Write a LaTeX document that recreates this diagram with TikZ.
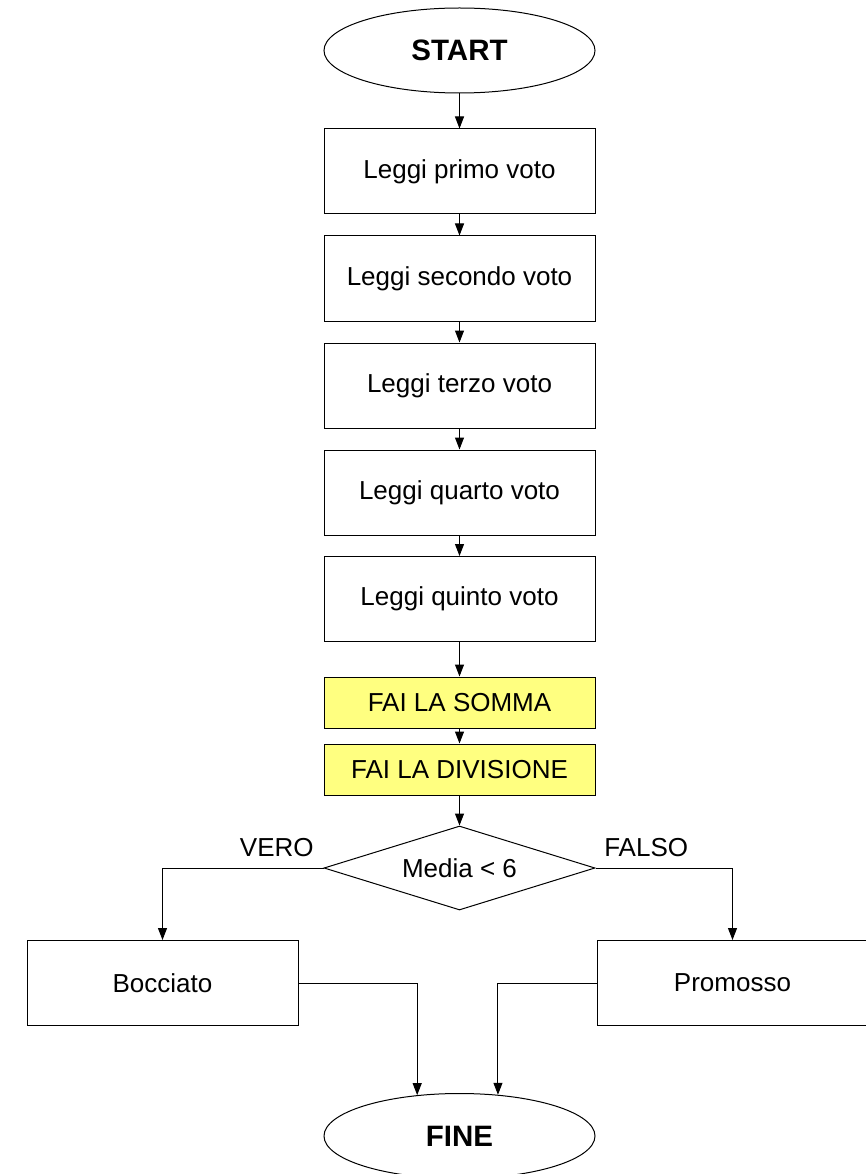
\documentclass[tikz,border=0pt]{standalone}
\usepackage{fontspec}
\setmainfont{Liberation Sans}
\usepackage{tikz}
\usetikzlibrary{shapes.geometric}
\usetikzlibrary{arrows.meta}
\usepackage{xcolor}
\definecolor{giallo}{RGB}{255,255,128}

\begin{document}
\begin{tikzpicture}[x=1pt,y=-1pt,line width=1pt,
  txt/.style={font=\fontsize{26}{31}\selectfont},
  term/.style={txt,draw,ellipse,minimum width=271pt,minimum height=85pt,inner sep=0pt,font=\fontsize{29.5}{34}\selectfont\bfseries},
  blocco/.style={txt,draw,rectangle,minimum width=271pt,minimum height=85pt,inner sep=0pt},
  calcolo/.style={blocco,fill=giallo,minimum height=51pt},
  cond/.style={txt,draw,diamond,aspect=3.2,minimum width=271pt,minimum height=84pt,inner sep=0pt},
  freccia/.style={-{Triangle[length=12pt,width=9pt]}},
  etich/.style={txt,inner sep=0pt}]
  \useasboundingbox (0,0) rectangle (865,1174);

  \node[term]   (start) at (459.5,50.5)  {START};
  \node[blocco] (v1)    at (459.5,171.5) {Leggi primo voto};
  \node[blocco] (v2)    at (459.5,278.5) {Leggi secondo voto};
  \node[blocco] (v3)    at (459.5,385.5) {Leggi terzo voto};
  \node[blocco] (v4)    at (459.5,492.5) {Leggi quarto voto};
  \node[blocco] (v5)    at (459.5,599)   {Leggi quinto voto};
  \node[calcolo] (somma) at (459.5,702.5) {FAI LA SOMMA};
  \node[calcolo] (divis) at (459.5,769.5) {FAI LA DIVISIONE};
  \node[cond]   (media) at (459.5,868)   {Media < 6};
  \node[blocco] (bocc)  at (162.5,983)   {Bocciato};
  \node[blocco] (prom)  at (732.5,983)   {Promosso};
  \node[term]   (fine)  at (459.5,1136)  {FINE};

  \draw[freccia] (start) -- (v1);
  \draw[freccia] (v1) -- (v2);
  \draw[freccia] (v2) -- (v3);
  \draw[freccia] (v3) -- (v4);
  \draw[freccia] (v4) -- (v5);
  \draw[freccia] (v5) -- (somma);
  \draw[freccia] (somma) -- (divis);
  \draw[freccia] (divis) -- (media);

  \draw[freccia] (media.west) -| node[etich,pos=0.145,above=11pt] {VERO} (bocc.north);
  \draw[freccia] (media.east) -| node[etich,pos=0.185,above=11pt] {FALSO} (prom.north);

  \draw[freccia] (bocc.east) -| (fine.136);
  \draw[freccia] (prom.west) -| (fine.47);

\end{tikzpicture}
\end{document}
